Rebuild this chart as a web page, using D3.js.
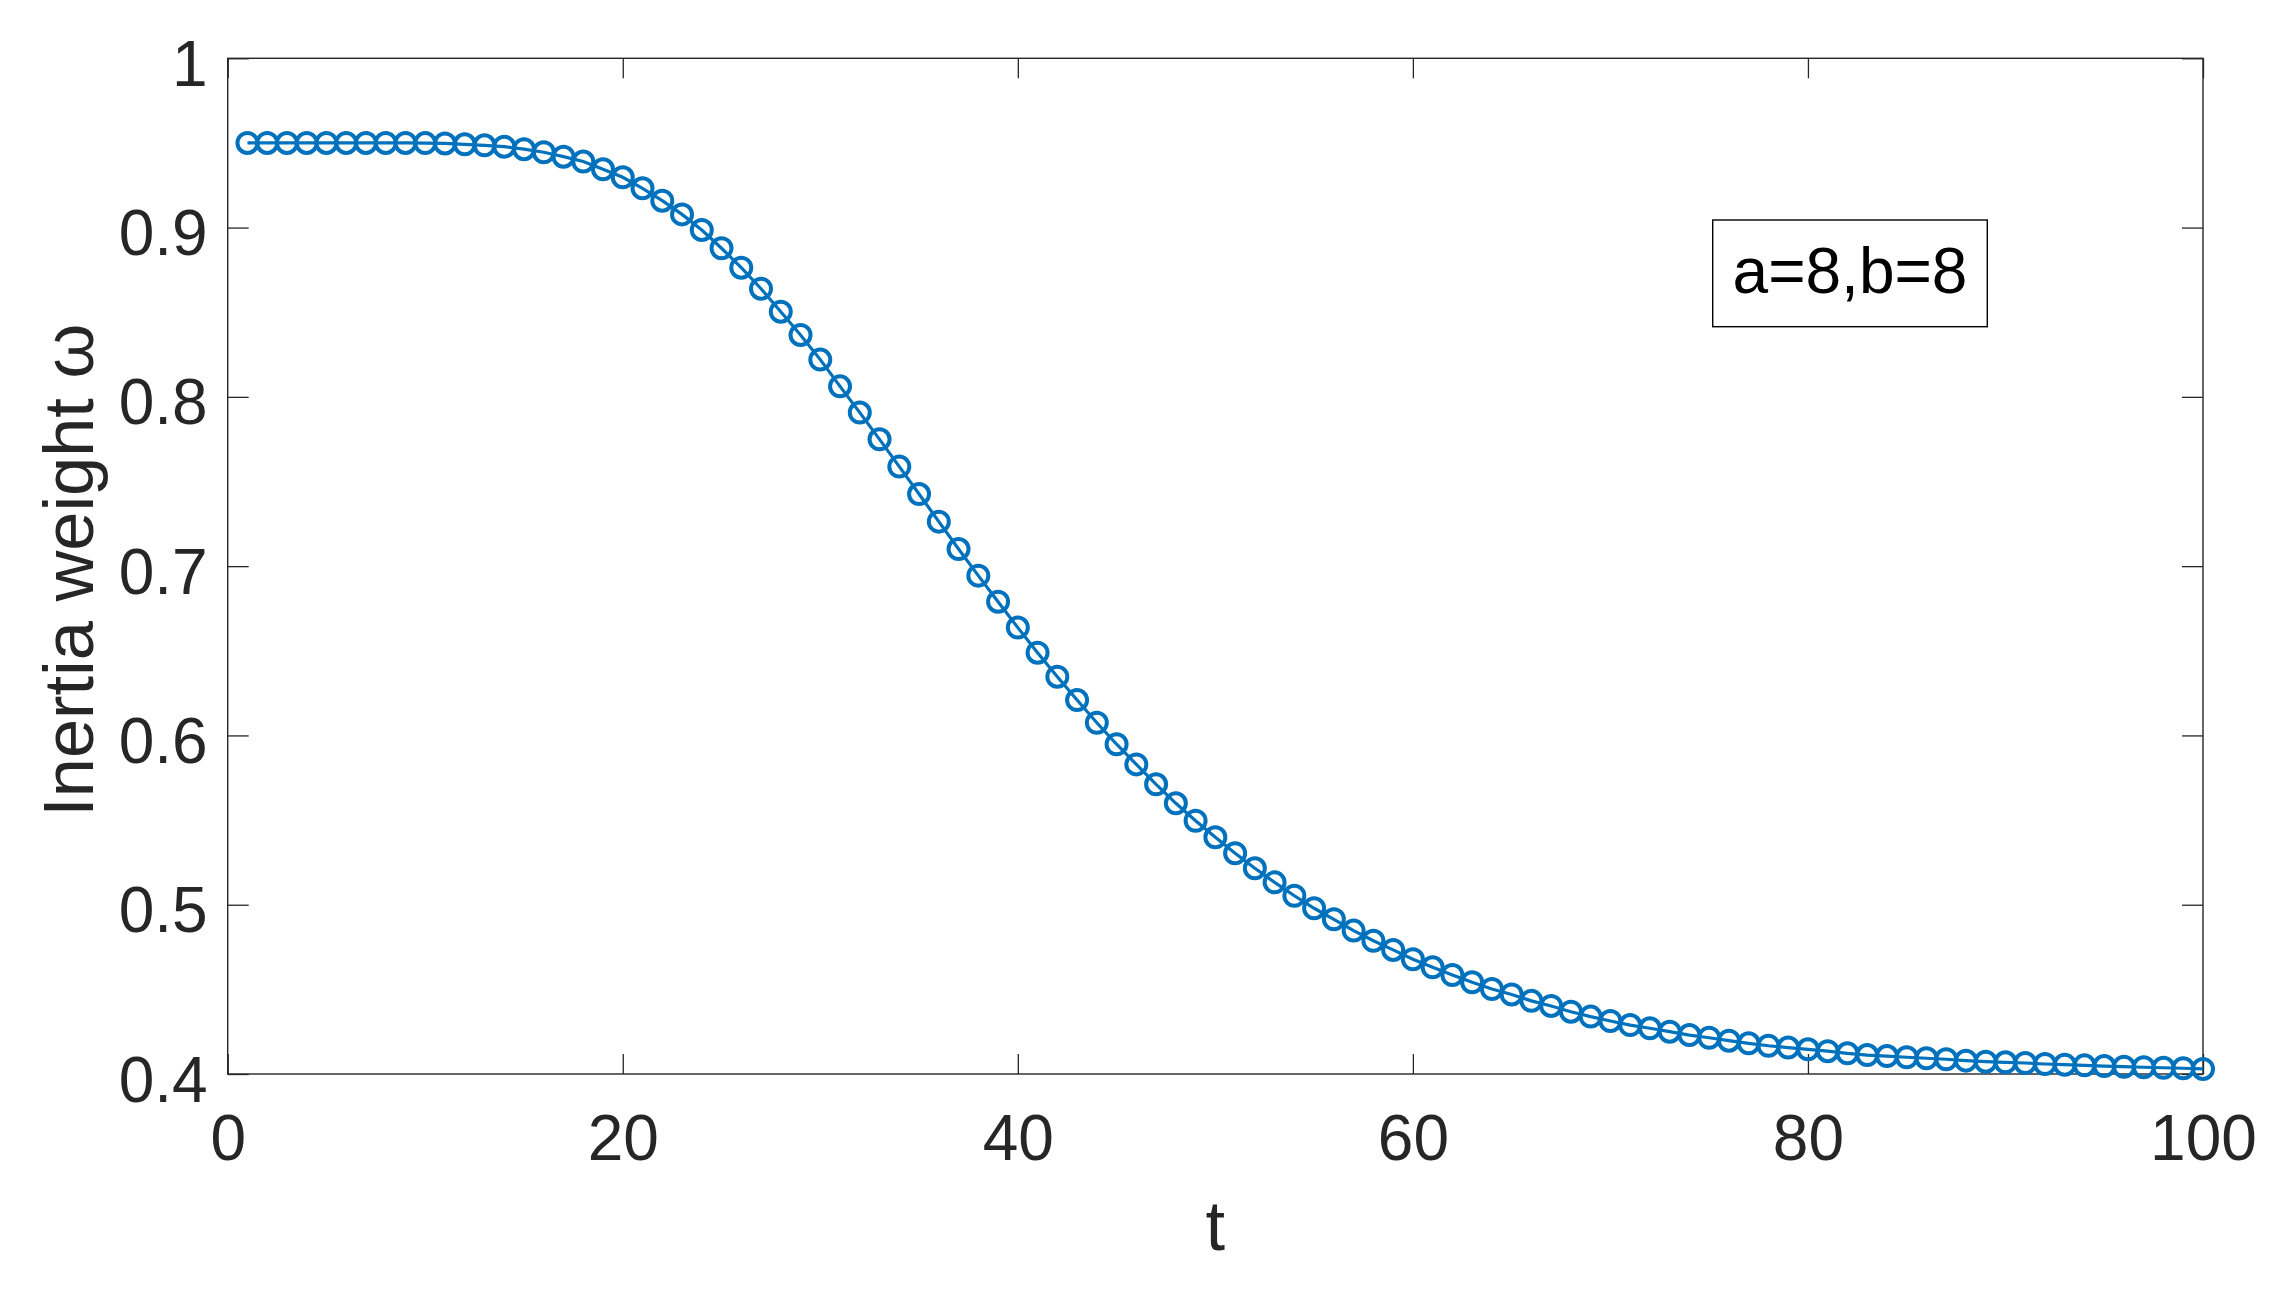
<!DOCTYPE html>
<html>
<head>
<meta charset="utf-8">
<script src="https://cdn.jsdelivr.net/npm/d3@7"></script>
<style>
  html, body { margin: 0; padding: 0; background: #fff; }
  svg { display: block; }
  text { font-family: Arial, "Liberation Sans", Helvetica, sans-serif; }
</style>
</head>
<body>
<svg id="chart" width="2283" height="1294"></svg>
<script>
// ---- data ----
const tValues = d3.range(1, 101);
const omegaValues = [
  0.95, 0.95, 0.95, 0.95, 0.95, 0.95, 0.95, 0.95, 0.95, 0.9499,
  0.9497, 0.9492, 0.9486, 0.9478, 0.9463, 0.9445, 0.9419, 0.939, 0.9344, 0.9297,
  0.9232, 0.9159, 0.9078, 0.8986, 0.8878, 0.8763, 0.8639, 0.8503, 0.8366, 0.822,
  0.8062, 0.7907, 0.7749, 0.7588, 0.7426, 0.7263, 0.7101, 0.6944, 0.679, 0.6637,
  0.6489, 0.6347, 0.6209, 0.6075, 0.5948, 0.5829, 0.5711, 0.5599, 0.5496, 0.5398,
  0.5304, 0.5215, 0.5132, 0.5053, 0.4979, 0.4914, 0.4847, 0.4787, 0.4733, 0.4678,
  0.463, 0.4585, 0.4542, 0.4502, 0.447, 0.4432, 0.4402, 0.4368, 0.4339, 0.4313,
  0.4289, 0.427, 0.425, 0.423, 0.4214, 0.4197, 0.4181, 0.4167, 0.4156, 0.4146,
  0.4135, 0.4122, 0.4112, 0.4106, 0.4099, 0.4093, 0.4087, 0.4079, 0.4073, 0.4069,
  0.4065, 0.4059, 0.4055, 0.4051, 0.4047, 0.4043, 0.404, 0.4037, 0.4034, 0.403
];
const xTicks = [0, 20, 40, 60, 80, 100];
const xTickLabels = ["0", "20", "40", "60", "80", "100"];
const yTicks = [0.4, 0.5, 0.6, 0.7, 0.8, 0.9, 1.0];
const yTickLabels = ["0.4", "0.5", "0.6", "0.7", "0.8", "0.9", "1"];
const xLabel = "t";
const yLabel = "Inertia weight \u03C9";
const legendText = "a=8,b=8";

// ---- layout ----
const L = 227.7, R = 2203, T = 58.3, B = 1074;
const axisColor = "#262626";
const lineColor = "#0072BD";
const tickFont = 64;
const labelFont = 70.4;

const svg = d3.select("#chart");
const x = d3.scaleLinear().domain([0, 100]).range([L, R]);
const y = d3.scaleLinear().domain([0.4, 1]).range([B, T]);

// axes
const xb = svg.append("g").attr("transform", `translate(0,${B})`)
  .call(d3.axisBottom(x).tickValues(xTicks).tickFormat((d, i) => xTickLabels[i]).tickSize(-20).tickSizeOuter(0));
const xt = svg.append("g").attr("transform", `translate(0,${T})`)
  .call(d3.axisTop(x).tickValues(xTicks).tickFormat("").tickSize(-20).tickSizeOuter(0));
const yl = svg.append("g").attr("transform", `translate(${L},0)`)
  .call(d3.axisLeft(y).tickValues(yTicks).tickFormat((d, i) => yTickLabels[i]).tickSize(-21).tickSizeOuter(0));
const yr = svg.append("g").attr("transform", `translate(${R},0)`)
  .call(d3.axisRight(y).tickValues(yTicks).tickFormat("").tickSize(-21).tickSizeOuter(0));

[xb, xt, yl, yr].forEach(g => {
  g.select(".domain").remove();
  g.selectAll(".tick line").attr("stroke", axisColor).attr("stroke-width", 1.3);
});
xb.selectAll(".tick text")
  .attr("y", 86).attr("dy", null)
  .attr("fill", axisColor).style("font-size", tickFont + "px");
yl.selectAll(".tick text")
  .attr("x", -20).attr("dy", null).attr("y", 27)
  .attr("fill", axisColor).style("font-size", tickFont + "px");
xt.selectAll(".tick text").remove();
yr.selectAll(".tick text").remove();

// box
svg.append("rect")
  .attr("x", L).attr("y", T).attr("width", R - L).attr("height", B - T)
  .attr("fill", "none").attr("stroke", axisColor).attr("stroke-width", 1.4);

// data line
const data = tValues.map((t, i) => ({ t, v: omegaValues[i] }));
svg.append("path")
  .datum(data)
  .attr("fill", "none")
  .attr("stroke", lineColor)
  .attr("stroke-width", 3.2)
  .attr("d", d3.line().x(d => x(d.t)).y(d => y(d.v)));

svg.append("g").selectAll("circle")
  .data(data).join("circle")
  .attr("cx", d => x(d.t)).attr("cy", d => y(d.v))
  .attr("r", 10)
  .attr("fill", "none")
  .attr("stroke", lineColor)
  .attr("stroke-width", 4);

// axis labels
svg.append("text")
  .attr("x", (L + R) / 2).attr("y", 1250)
  .attr("text-anchor", "middle")
  .attr("fill", axisColor)
  .style("font-size", labelFont + "px")
  .text(xLabel);

svg.append("text")
  .attr("transform", `translate(92.7,${(T + B) / 2 + 4}) rotate(-90)`)
  .attr("text-anchor", "middle")
  .attr("fill", axisColor)
  .style("font-size", labelFont + "px")
  .text(yLabel);

// annotation box
const ann = svg.append("g");
ann.append("rect")
  .attr("x", 1712.7).attr("y", 220).attr("width", 274.6).attr("height", 106.7)
  .attr("fill", "#fff").attr("stroke", "#000").attr("stroke-width", 1.4);
ann.append("text")
  .attr("x", 1712.7 + 274.6 / 2).attr("y", 293.3)
  .attr("text-anchor", "middle")
  .attr("fill", "#000")
  .style("font-size", tickFont + "px")
  .text(legendText);
</script>
</body>
</html>
